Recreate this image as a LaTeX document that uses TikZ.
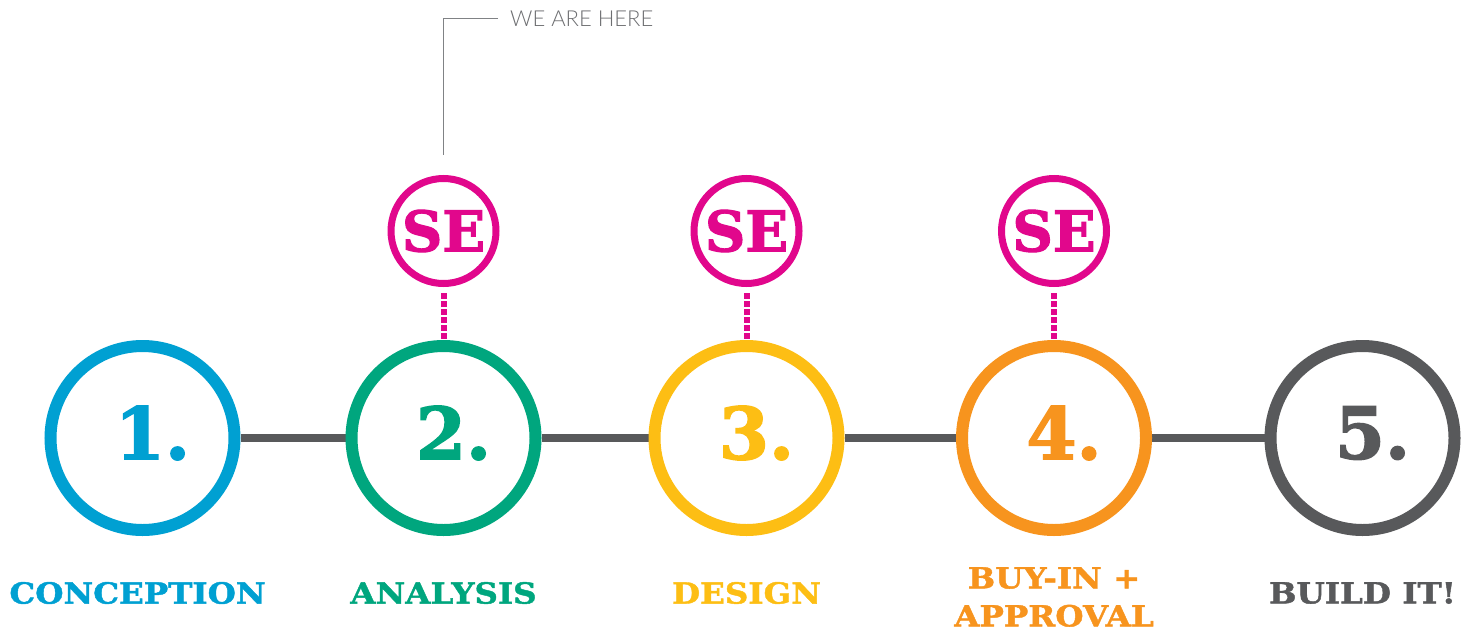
\documentclass[tikz,border=0pt]{standalone}
\usepackage{fontspec}
\usepackage{tikz}
\usetikzlibrary{positioning}
\usetikzlibrary{backgrounds}
\newfontfamily\slab[FakeBold=2]{DejaVu Serif}
\newfontfamily\slabwide[FakeStretch=1.12,FakeBold=1.5]{DejaVu Serif}
\newfontfamily\thinsans{Lato Light}
\definecolor{cblue}{RGB}{0,160,210}
\definecolor{cgreen}{RGB}{0,166,126}
\definecolor{cyellow}{RGB}{253,190,20}
\definecolor{corange}{RGB}{247,148,30}
\definecolor{cgray}{RGB}{88,89,91}
\definecolor{cpink}{RGB}{225,7,140}
\definecolor{cleader}{RGB}{128,130,133}
\tikzstyle{stage}=[circle, draw, fill=white, line width=12pt,
  minimum size=184pt, inner sep=0pt]
\tikzstyle{numtext}=[font=\slab\bfseries\fontsize{72}{72}\selectfont,
  xshift=10pt, yshift=5pt]
\tikzstyle{sebox}=[circle, draw=cpink, fill=white, line width=7pt,
  minimum size=105pt, inner sep=0pt, text=cpink,
  font=\slab\bfseries\fontsize{56}{56}\selectfont]
\tikzstyle{lbl}=[font=\slabwide\bfseries\fontsize{29}{38}\selectfont,
  align=center, inner sep=0pt]
\tikzstyle{link} = [draw, cgray, line width=8pt]
\tikzstyle{dots} = [draw, cpink, line width=6pt, dash pattern=on 5.5pt off 2.5pt]
\tikzstyle{leader} = [draw, cleader, line width=1.3pt]
\newcommand{\stage}[2]{node (p#1) [stage, draw=#2,
  label={[numtext, text=#2]center:#1.}] {}}
\newcommand{\senode}[1]{node (s#1) [sebox] {SE}}

\begin{document}
\begin{tikzpicture}[x=1pt,y=-1pt]
    \useasboundingbox (0,0) rectangle (1471,632);

    % Draw diagram elements
    \path (142.5,438) \stage{1}{cblue};
    \path (p1)+(301,0) \stage{2}{cgreen};
    \path (p2)+(303,0) \stage{3}{cyellow};
    \path (p3)+(307.5,0) \stage{4}{corange};
    \path (p4)+(308.5,0) \stage{5}{cgray};
    \path (p2)+(0,-207) \senode{2};
    \path (p3)+(0,-207) \senode{3};
    \path (p4)+(0,-207) \senode{4};
    % Labels
    \path (p1)+(-5,155) node (l1) [lbl, text=cblue] {CONCEPTION};
    \path (p2)+(0,155) node (l2) [lbl, text=cgreen] {ANALYSIS};
    \path (p3)+(0,155) node (l3) [lbl, text=cyellow] {DESIGN};
    \path (p4)+(0,159) node (l4) [lbl, text=corange] {BUY-IN +\\APPROVAL};
    \path (p5)+(0,155) node (l5) [lbl, text=cgray] {BUILD IT!};
    \node (here) [anchor=west, inner sep=0pt, text=cleader!85!black,
      font=\thinsans\fontsize{22}{22}\selectfont] at (510,18.5) {WE ARE HERE};
    \path (s2.north)+(0,-20) coordinate (tip);

    % Draw arrows between elements
    \begin{scope}[on background layer]
      \path [link] (p1) -- (p2);
      \path [link] (p2) -- (p3);
      \path [link] (p3) -- (p4);
      \path [link] (p4) -- (p5);
    \end{scope}
    \path [dots] (s2.south)+(0,6) -- (p2.north);
    \path [dots] (s3.south)+(0,6) -- (p3.north);
    \path [dots] (s4.south)+(0,6) -- (p4.north);
    \path [leader] (here.west)+(-12,0) -| (tip);


  \end{tikzpicture}
\end{document}
